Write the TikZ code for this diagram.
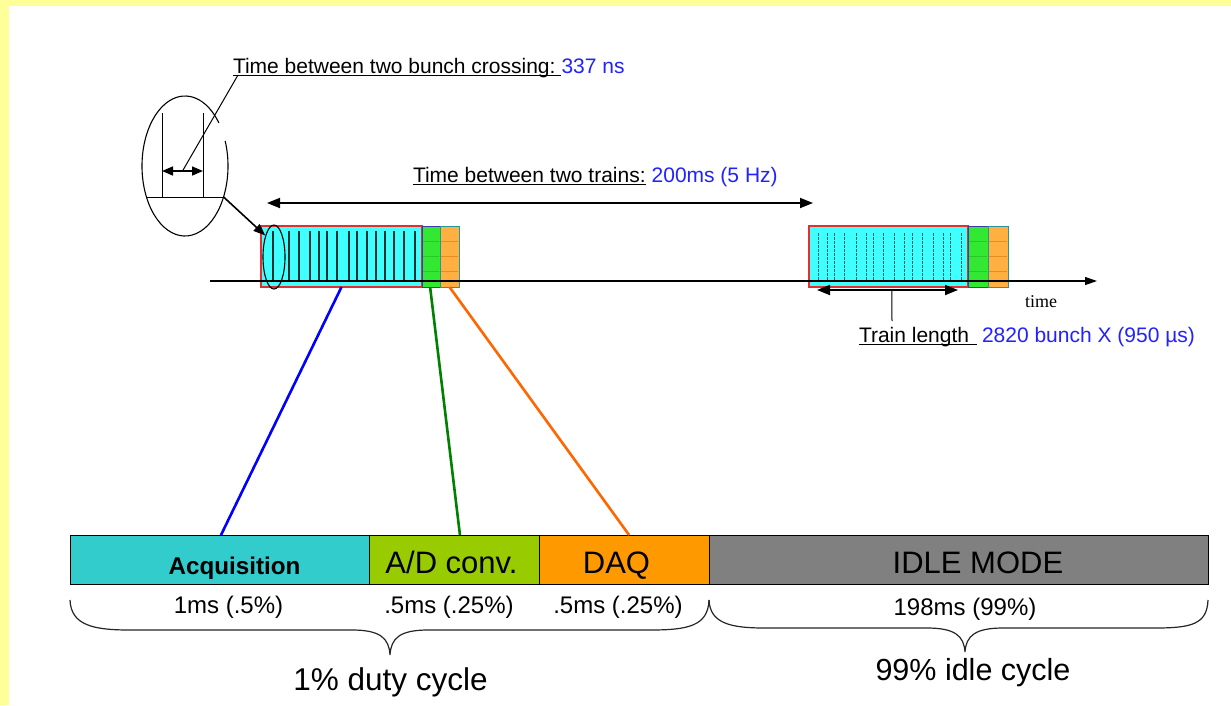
\documentclass[tikz,border=0pt]{standalone}
\usepackage{fontspec}
\setmainfont{Liberation Sans}
\newfontfamily\serifface{Liberation Serif}
\usetikzlibrary{arrows.meta,calc,shapes.geometric}

\definecolor{pagebg}{RGB}{255,255,153}
\definecolor{labelblue}{RGB}{34,34,255}
\definecolor{traincyan}{RGB}{64,255,255}
\definecolor{trainred}{RGB}{224,48,48}
\definecolor{convgreen}{RGB}{50,232,50}
\definecolor{convedge}{RGB}{60,60,170}
\definecolor{convline}{RGB}{40,200,40}
\definecolor{daqorange}{RGB}{255,176,64}
\definecolor{daqedge}{RGB}{40,150,150}
\definecolor{daqline}{RGB}{235,140,30}
\definecolor{spikecol}{RGB}{20,50,50}
\definecolor{acqteal}{RGB}{51,204,204}
\definecolor{adgreen}{RGB}{153,204,0}
\definecolor{daqbar}{RGB}{255,153,0}
\definecolor{idlegray}{RGB}{128,128,128}
\definecolor{linkblue}{RGB}{0,0,255}
\definecolor{linkgreen}{RGB}{0,128,0}
\definecolor{linkorange}{RGB}{255,102,0}

\tikzset{
  lbl/.style={inner sep=0, outer sep=0, anchor=base west, font=\fontsize{21}{24}\selectfont},
  vallbl/.style={lbl, text=labelblue},
  barlbl/.style={inner sep=0, outer sep=0, anchor=base, font=\fontsize{31}{34}\selectfont},
  durlbl/.style={inner sep=0, outer sep=0, anchor=base, font=\fontsize{24}{27}\selectfont},
  cyclbl/.style={inner sep=0, outer sep=0, anchor=base, font=\fontsize{31.5}{34}\selectfont},
  cell/.style={inner sep=0, outer sep=0, anchor=north west, minimum height=61pt},
  barbox/.style={draw=black, line width=0.8pt, inner sep=0, outer sep=0, anchor=north west, minimum height=49pt},
  dimarrow/.style={line width=1.8pt, {Triangle[length=13pt,width=10pt]}-{Triangle[length=13pt,width=10pt]}},
  underl/.style={line width=1pt},
  link/.style={line width=2.6pt},
  brace/.style={line width=1.2pt, black!85}
}

\begin{document}
\begin{tikzpicture}[x=1pt,y=-1pt]
\useasboundingbox (0,0) rectangle (1231,705);
% page
\fill[pagebg] (0,0) rectangle (1231,705);
\fill[white] (9,6) rectangle (1231,705);

% ---------- time axis ----------
\coordinate (axL) at (210,281);
\coordinate (axR) at (1097,281);

% ---------- first train ----------
\node[cell, fill=traincyan, draw=trainred, line width=1.1pt, minimum width=161pt] (acqA) at (261,226) {};
\node[cell, fill=convgreen, draw=convedge, line width=1pt, minimum width=18pt] (convA) at (422,226) {};
\node[cell, fill=daqorange, draw=daqedge, line width=1pt, minimum width=19pt] (daqA) at (440,226) {};
\foreach \yy in {241,256,271} {
  \draw[convline, line width=0.6pt] (423,\yy) -- (439,\yy);
  \draw[daqline, line width=0.8pt] (441,\yy) -- (458,\yy);
}
\foreach \xx in {273,289,299,310,319,327,337,349,357,367,376,385,394,404,415}
  \draw[spikecol, line width=1.2pt] (\xx,231) -- (\xx,281);

% ---------- second train ----------
\node[cell, fill=traincyan, draw=trainred, line width=1.1pt, minimum width=159pt] (acqB) at (809,226) {};
\node[cell, fill=convgreen, draw=convedge, line width=1pt, minimum width=20pt] (convB) at (968,226) {};
\node[cell, fill=daqorange, draw=daqedge, line width=1pt, minimum width=20pt] (daqB) at (988,226) {};
\foreach \yy in {241,256,271} {
  \draw[convline, line width=0.6pt] (969,\yy) -- (987,\yy);
  \draw[daqline, line width=0.8pt] (989,\yy) -- (1007,\yy);
}
\foreach \xx in {818,827,834,844,856,866,873,883,894,904,912,922,933,943,950,961}
  \draw[spikecol!80, line width=0.9pt, dash pattern=on 2.5pt off 1.5pt] (\xx,233) -- (\xx,281);

\draw[line width=1.2pt, -{Triangle[length=12pt,width=8pt]}] (axL) -- (axR);
\node[inner sep=0, anchor=base west, font=\serifface\fontsize{18}{20}\selectfont] (timelbl) at (1025,307) {time};

% ---------- magnified bunch crossing ----------
\coordinate (zc) at (185,166);
\draw[line width=1.1pt] ($(zc)+(-21:43 and 70)$) arc[start angle=-21, end angle=322, x radius=43, y radius=70];
\coordinate (tickL) at (162,197);
\coordinate (tickR) at (203,197);
\draw[line width=1pt] (tickL) -- (162,113);
\draw[line width=1pt] (tickR) -- (203,113);
\coordinate (zoomL) at (146.4,197);
\coordinate (zoomR) at (223.6,197);
\draw[line width=1pt] (zoomL) -- (zoomR);
\coordinate (gapL) at (162,171);
\coordinate (gapR) at (203,171);
\draw[line width=1.6pt, {Triangle[length=11pt,width=9pt]}-{Triangle[length=11pt,width=9pt]}] (gapL) -- (gapR);

\node[draw, ellipse, line width=1.1pt, inner sep=0, minimum width=22pt, minimum height=64pt] (pick) at (274,257) {};
\draw[line width=1.6pt, -{Triangle[length=12pt,width=9pt]}] (zoomR) -- (pick.112);

\node[lbl] (bxtxt) at (233,73) {Time between two bunch crossing:};
\node[vallbl] (bxval) at ([xshift=6pt]bxtxt.base east) {337 ns};
\draw[underl] ($(bxtxt.base west)+(0,2)$) -- ($(bxval.base west)+(-1,2)$);
\draw[line width=1pt] ($(bxtxt.base west)+(5,2)$) -- ($(gapL)!0.5!(gapR)$);

% ---------- train period ----------
\coordinate (perL) at (267,203);
\coordinate (perR) at (813,203);
\draw[dimarrow] (perL) -- (perR);
\node[lbl] (pertxt) at (413,182) {Time between two trains:};
\node[vallbl] (perval) at ([xshift=6pt]pertxt.base east) {200ms (5 Hz)};
\draw[underl] ($(pertxt.base west)+(0,2)$) -- ($(pertxt.base east)+(0,2)$);

% ---------- train length ----------
\coordinate (lenL) at (817,290);
\coordinate (lenR) at (958,290);
\draw[dimarrow] (lenL) -- (lenR);
\node[lbl] (lentxt) at (859,342) {Train length};
\node[vallbl] (lenval) at (982,342) {2820 bunch X (950 µs)};
\draw[underl] ($(lentxt.base west)+(0,2)$) -- ($(lenval.base west)+(-5,2)$);
\draw[line width=1pt] ($(lenL)!0.53!(lenR)$) -- (892,321);

% ---------- cycle bar ----------
\node[barbox, fill=acqteal, minimum width=299pt] (acq) at (70,535) {};
\node[barbox, fill=adgreen, minimum width=170pt] (adc) at (369,535) {};
\node[barbox, fill=daqbar, minimum width=170pt] (daq) at (539,535) {};
\node[barbox, fill=idlegray, minimum width=499pt] (idle) at (709,535) {};

\node[inner sep=0, anchor=base, font=\bfseries\fontsize{24.2}{27}\selectfont] (acqlbl) at (234.5,574) {Acquisition};
\node[barlbl] (adclbl) at (451.5,573) {A/D conv.};
\node[barlbl] (daqlbl) at (616.5,573) {DAQ};
\node[barlbl] (idlelbl) at (978,573) {IDLE MODE};

\node[durlbl] (acqdur) at (228.5,613) {1ms (.5\%)};
\node[durlbl] (adcdur) at (449,613) {.5ms (.25\%)};
\node[durlbl] (daqdur) at (618,613) {.5ms (.25\%)};
\node[durlbl] (idledur) at (965,615) {198ms (99\%)};

% links from the first train to the bar
\draw[link, linkblue] ($(acqA.south west)!0.5!(acqA.south east)$) -- ($(acq.north west)!0.505!(acq.north east)$);
\draw[link, linkgreen] ($(convA.south west)!0.45!(convA.south east)$) -- ($(adc.north west)!0.535!(adc.north east)$);
\draw[link, linkorange] ($(daqA.south west)!0.5!(daqA.south east)$) -- ($(daq.north west)!0.53!(daq.north east)$);

% braces
\draw[brace] (70,600) .. controls (71,626) and (95,630) .. (130,630)
  -- (352,630) .. controls (380,630) and (389,638) .. (390,655)
  .. controls (391,638) and (400,630) .. (428,630)
  -- (650,630) .. controls (688,630) and (708,626) .. (709,600);
\draw[brace] (709,600) .. controls (710,624) and (732,628) .. (765,628)
  -- (927,628) .. controls (955,628) and (964,636) .. (965,652)
  .. controls (966,636) and (975,628) .. (1003,628)
  -- (1155,628) .. controls (1192,628) and (1207,624) .. (1208,600);

\node[cyclbl] (duty) at (390.5,690) {1\% duty cycle};
\node[cyclbl, font=\fontsize{30.5}{33}\selectfont] (idlecyc) at (973,680) {99\% idle cycle};
\end{tikzpicture}
\end{document}
